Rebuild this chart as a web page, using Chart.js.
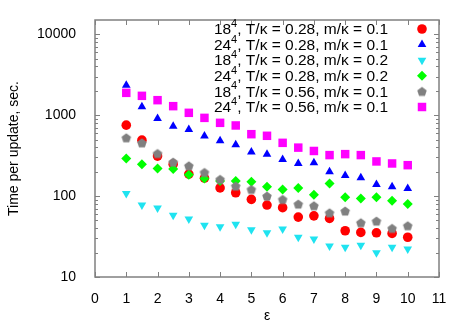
<!DOCTYPE html>
<html>
<head>
<meta charset="utf-8">
<script src="https://cdn.jsdelivr.net/npm/chart.js@4/dist/chart.umd.min.js"></script>
<style>
  html, body { margin: 0; padding: 0; background: #fff; }
  #wrap { width: 467px; height: 327px; }
</style>
</head>
<body>
<div id="wrap"><canvas id="timeChart" width="467" height="327"></canvas></div>
<script>
// epsilon values (x)
const eps = [1, 1.5, 2, 2.5, 3, 3.5, 4, 4.5, 5, 5.5, 6, 6.5, 7, 7.5, 8, 8.5, 9, 9.5, 10];

// time per update, sec.
const red18T028m01 = [753, 491, 312, 248, 187, 167, 126, 110, 91, 77.5, 72, 55, 57, 53, 37.3, 35.6, 35.2, 34.6, 31];
const blue24T028m01 = [2345, 1267, 910, 731, 666, 551, 484, 430, 350, 330, 283, 253, 258, 200, 180, 168, 139, 130, 124];
const cyan18T028m02 = [108, 77.5, 71, 58, 52, 43.5, 41.8, 45, 38.4, 35.2, 39.2, 30.9, 29.4, 24.1, 23.3, 24.6, 20, 23.3, 22.2];
const green24T028m02 = [292, 248, 220, 216, 183, 165, 154, 154, 150, 130, 121, 126, 104, 143, 96.4, 93.6, 96.4, 87.5, 79.6];
const gray18T056m01 = [525, 455, 336, 263, 237, 196, 161, 133, 121, 100, 91, 79.6, 76, 62.2, 65.3, 46.9, 49.1, 39.9, 43];
const mag24T056m01 = [1887, 1733, 1532, 1292, 1069, 926, 804, 746, 582, 556, 455, 397, 361, 321, 330, 321, 268, 253, 241];

// legend text pieces
const latSize = ['18', '24', '18', '24', '18', '24'];
const tOverK = ['0.28', '0.28', '0.28', '0.28', '0.56', '0.56'];
const mOverK = ['0.1', '0.1', '0.2', '0.2', '0.1', '0.1'];

const xTicks = [0, 1, 2, 3, 4, 5, 6, 7, 8, 9, 10, 11];
const yTicks = [10, 100, 1000, 10000];

// gray pentagon marker (no built-in pentagon in Chart.js)
function pentagon(color, r) {
  const c = document.createElement('canvas');
  const s = Math.ceil(r * 2 + 2);
  c.width = s; c.height = s;
  const g = c.getContext('2d');
  g.fillStyle = color;
  g.beginPath();
  for (let i = 0; i < 5; i++) {
    const a = -Math.PI / 2 + i * 2 * Math.PI / 5;
    const px = s / 2 + r * Math.cos(a), py = s / 2 + 0.5 + r * Math.sin(a);
    if (i === 0) g.moveTo(px, py); else g.lineTo(px, py);
  }
  g.closePath();
  g.fill();
  return c;
}
const pentImg = pentagon('#808080', 5);

const series = [
  { data: red18T028m01, color: '#ff0000', style: 'circle', radius: 4.8, rot: 0 },
  { data: blue24T028m01, color: '#0000ff', style: 'triangle', radius: 5, rot: 0 },
  { data: cyan18T028m02, color: '#1fe3f0', style: 'triangle', radius: 5, rot: 180 },
  { data: green24T028m02, color: '#00ff00', style: 'rectRot', radius: 5, rot: 0 },
  { data: gray18T056m01, color: '#808080', style: pentImg, radius: 5, rot: 0 },
  { data: mag24T056m01, color: '#ff00ff', style: 'rect', radius: 6, rot: 0 }
];

const datasets = series.map((s, i) => ({
  label: latSize[i] + '4, T/κ = ' + tOverK[i] + ', m/κ = ' + mOverK[i],
  data: eps.map((x, j) => ({ x: x, y: s.data[j] })),
  showLine: false,
  pointStyle: s.style,
  pointRadius: s.radius,
  pointRotation: s.rot,
  pointBackgroundColor: s.color,
  pointBorderColor: s.color,
  pointBorderWidth: 0,
  order: 6 - i
}));

const FRAME = '#808080';

// gnuplot-like frame with inward ticks on all four sides
const framePlugin = {
  id: 'frame',
  beforeDatasetsDraw(chart) {
    const { ctx, chartArea: a, scales: { x, y } } = chart;
    ctx.save();
    ctx.strokeStyle = FRAME;
    ctx.lineWidth = 1;
    ctx.beginPath();
    xTicks.forEach(v => {
      const px = Math.round(x.getPixelForValue(v)) + 0.5;
      ctx.moveTo(px, a.bottom); ctx.lineTo(px, a.bottom - 5);
      ctx.moveTo(px, a.top); ctx.lineTo(px, a.top + 5);
    });
    for (let d = 10; d <= 10000; d *= 10) {
      for (let k = 1; k <= 9; k++) {
        const v = d * k;
        if (v < 10 || v > 15000) continue;
        const py = Math.round(y.getPixelForValue(v)) + 0.5;
        const len = k === 1 ? 5 : 3;
        ctx.moveTo(a.left, py); ctx.lineTo(a.left + len, py);
        ctx.moveTo(a.right, py); ctx.lineTo(a.right - len, py);
      }
    }
    ctx.stroke();
    ctx.lineWidth = 1.5;
    ctx.strokeRect(a.left, a.top, a.right - a.left, a.bottom - a.top);
    ctx.restore();
  }
};

// legend: right aligned text with superscript, marker to the right
const legendPlugin = {
  id: 'gpLegend',
  afterDraw(chart) {
    const { ctx } = chart;
    const textRight = 388, markX = 422, top = 29, step = 15.6;
    const big = '15.5px "Liberation Sans", Arial, sans-serif';
    const small = '11px "Liberation Sans", Arial, sans-serif';
    series.forEach((s, i) => {
      const yy = top + i * step;
      const rest = ', T/κ = ' + tOverK[i] + ', m/κ = ' + mOverK[i];
      ctx.save();
      ctx.fillStyle = '#000';
      ctx.textBaseline = 'middle';
      ctx.textAlign = 'left';
      ctx.font = big;
      const wRest = ctx.measureText(rest).width;
      const wLat = ctx.measureText(latSize[i]).width;
      ctx.font = small;
      const wSup = ctx.measureText('4').width;
      const x0 = textRight - wRest - wSup - wLat;
      ctx.font = big;
      ctx.fillText(latSize[i], x0, yy + 1);
      ctx.font = small;
      ctx.fillText('4', x0 + wLat, yy - 5);
      ctx.font = big;
      ctx.fillText(rest, x0 + wLat + wSup, yy + 1);
      ctx.fillStyle = s.color;
      ctx.strokeStyle = s.color;
      Chart.helpers.drawPoint(ctx, {
        pointStyle: s.style, radius: s.radius, rotation: s.rot, borderWidth: 0
      }, markX, yy);
      ctx.restore();
    });
  }
};

const tickFont = { family: '"Liberation Sans", Arial, sans-serif', size: 14 };

new Chart(document.getElementById('timeChart').getContext('2d'), {
  type: 'scatter',
  data: { datasets: datasets },
  options: {
    responsive: false,
    animation: false,
    events: [],
    layout: { padding: { top: 20, right: 28, left: 0, bottom: 0 } },
    plugins: {
      legend: { display: false },
      tooltip: { enabled: false }
    },
    scales: {
      x: {
        type: 'linear',
        min: 0,
        max: 11,
        grid: { display: false },
        border: { display: false },
        afterBuildTicks: s => { s.ticks = xTicks.map(v => ({ value: v })); },
        afterFit: s => { s.height = 50; },
        ticks: { color: '#000', font: tickFont, padding: 6, maxRotation: 0, autoSkip: false },
        title: { display: true, text: 'ε', color: '#000', font: tickFont, padding: { top: 0, bottom: 2 } }
      },
      y: {
        type: 'logarithmic',
        min: 10,
        max: 15000,
        grid: { display: false },
        border: { display: false },
        afterBuildTicks: s => { s.ticks = yTicks.map(v => ({ value: v })); },
        afterFit: s => { s.width = 95; },
        ticks: { color: '#000', font: tickFont, padding: 11, autoSkip: false, callback: v => String(v) },
        title: { display: true, text: 'Time per update, sec.', color: '#000', font: tickFont, padding: { top: 6, bottom: 0 } }
      }
    }
  },
  plugins: [framePlugin, legendPlugin]
});
</script>
</body>
</html>
